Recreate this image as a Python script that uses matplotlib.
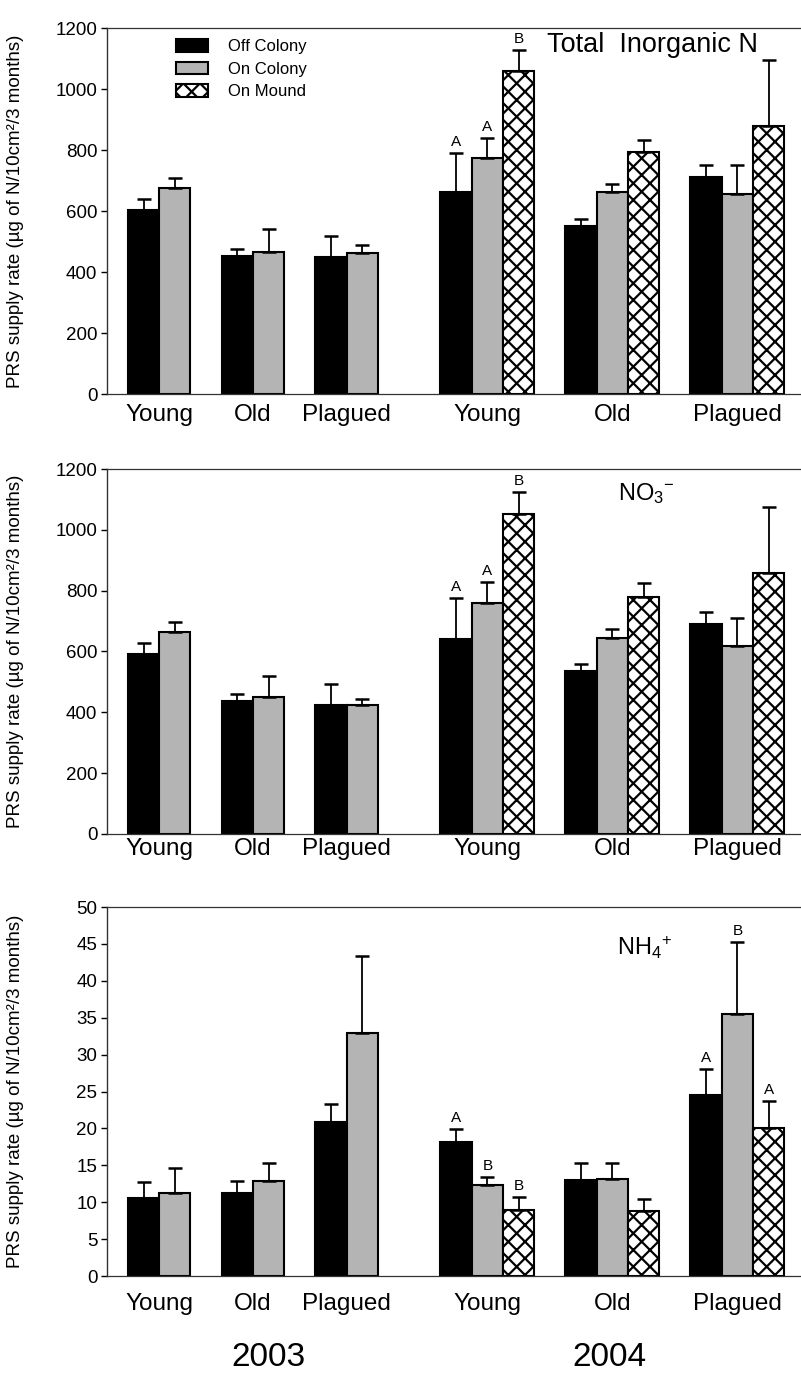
import numpy as np
import matplotlib
matplotlib.use('Agg')
import matplotlib.pyplot as plt

plt.rcParams['font.family'] = ['Liberation Sans', 'DejaVu Sans']
plt.rcParams['mathtext.fontset'] = 'custom'
plt.rcParams['mathtext.rm'] = 'Liberation Sans'
plt.rcParams['mathtext.it'] = 'Liberation Sans'
plt.rcParams['mathtext.default'] = 'regular'
plt.rcParams['hatch.linewidth'] = 1.6

# groups: 2003 Young, Old, Plagued, then 2004 Young, Old, Plagued
categories = ['Young', 'Old', 'Plagued', 'Young', 'Old', 'Plagued']
years = ['2003', '2004']
series = ['Off Colony', 'On Colony', 'On Mound']
nan = np.nan

# Total inorganic N
tin_off = [603, 452, 449, 664, 550, 710]
tin_off_se = [36, 23, 68, 126, 23, 41]
tin_on = [676, 466, 462, 773, 663, 655]
tin_on_se = [33, 74, 28, 66, 24, 96]
tin_mound = [nan, nan, nan, 1059, 792, 879]
tin_mound_se = [nan, nan, nan, 69, 41, 216]
tin_letters = [[None, None, None, 'A', None, None],
               [None, None, None, 'A', None, None],
               [None, None, None, 'B', None, None]]

# NO3-
no3_off = [591, 438, 424, 642, 536, 689]
no3_off_se = [36, 22, 69, 133, 23, 40]
no3_on = [664, 451, 424, 760, 645, 619]
no3_on_se = [33, 69, 19, 68, 28, 92]
no3_mound = [nan, nan, nan, 1051, 780, 857]
no3_mound_se = [nan, nan, nan, 72, 44, 219]
no3_letters = [[None, None, None, 'A', None, None],
               [None, None, None, 'A', None, None],
               [None, None, None, 'B', None, None]]

# NH4+
nh4_off = [10.6, 11.2, 20.9, 18.2, 13.0, 24.5]
nh4_off_se = [2.1, 1.7, 2.4, 1.7, 2.3, 3.5]
nh4_on = [11.3, 12.9, 32.9, 12.3, 13.2, 35.5]
nh4_on_se = [3.4, 2.4, 10.4, 1.1, 2.1, 9.7]
nh4_mound = [nan, nan, nan, 9.0, 8.8, 20.1]
nh4_mound_se = [nan, nan, nan, 1.7, 1.6, 3.6]
nh4_letters = [[None, None, None, 'A', None, 'A'],
               [None, None, None, 'B', None, 'B'],
               [None, None, None, 'B', None, 'A']]

panels = [
    dict(vals=[tin_off, tin_on, tin_mound], se=[tin_off_se, tin_on_se, tin_mound_se],
         letters=tin_letters, title='Total  Inorganic N', ymax=1200, ystep=200),
    dict(vals=[no3_off, no3_on, no3_mound], se=[no3_off_se, no3_on_se, no3_mound_se],
         letters=no3_letters, title='NO$_3$$^{-}$', ymax=1200, ystep=200),
    dict(vals=[nh4_off, nh4_on, nh4_mound], se=[nh4_off_se, nh4_on_se, nh4_mound_se],
         letters=nh4_letters, title='NH$_4$$^{+}$', ymax=50, ystep=5),
]

# layout
rects = [[0.1336, 0.713, 0.865, 0.2666],
         [0.1336, 0.3926, 0.865, 0.2658],
         [0.1336, 0.0706, 0.865, 0.2688]]
label_pads = [7, 3, 12]
title_pos = [(0.635, 0.954), (0.737, 0.934), (0.736, 0.889)]
title_sizes = [19.5, 17, 17]
faces = ['black', '#b4b4b4', 'white']
hatches = [None, None, 'xx']


def group_slots(g):
    # each bar takes one slot, one empty slot between groups, two between years
    if g < 3:
        nbar = 2
        start = g * 3
    else:
        nbar = 3
        start = 10 + (g - 3) * 4
    return nbar, start


fig = plt.figure(figsize=(8.01, 13.73), dpi=100)

for p, panel in enumerate(panels):
    ax = fig.add_axes(rects[p])
    centers = []
    for s in range(3):
        xs, ys, es, letts = [], [], [], []
        for g in range(len(categories)):
            nbar, start = group_slots(g)
            if s >= nbar:
                continue
            xs.append(start + s + 0.5)
            ys.append(panel['vals'][s][g])
            es.append(panel['se'][s][g])
            letts.append(panel['letters'][s][g])
        ax.bar(xs, ys, width=1.0, color=faces[s], edgecolor='black', linewidth=1.5,
               hatch=hatches[s], label=series[s], zorder=2)
        ax.errorbar(xs, ys, yerr=[np.zeros(len(es)), es], fmt='none', ecolor='black',
                    elinewidth=1.3, capsize=5, capthick=1.8, zorder=3)
        for x, y, e, l in zip(xs, ys, es, letts):
            if l:
                ax.annotate(l, (x, y + e), xytext=(0, 3), textcoords='offset points',
                            ha='center', va='bottom', fontsize=11)
    for g in range(len(categories)):
        nbar, start = group_slots(g)
        centers.append(start + nbar / 2)

    ax.set_xlim(-0.67, 21.5)
    ax.set_ylim(0, panel['ymax'])
    ax.set_yticks(np.arange(0, panel['ymax'] + 0.1, panel['ystep']))
    ax.set_xticks(centers)
    ax.set_xticklabels(categories, fontsize=17.5)
    ax.tick_params(axis='x', length=0, pad=label_pads[p])
    ax.tick_params(axis='y', direction='out', length=4, width=1, labelsize=13.5, pad=3)
    ax.spines['right'].set_visible(False)
    for side in ['top', 'bottom']:
        ax.spines[side].set_linestyle((0, (1, 1)))
        ax.spines[side].set_linewidth(0.9)
        ax.spines[side].set_color('#333333')
    ax.spines['left'].set_linewidth(1.0)
    ax.spines['left'].set_color('#333333')
    ax.set_ylabel('PRS supply rate (µg of N/10cm²/3 months)', fontsize=13.5)
    ax.yaxis.set_label_coords(-0.12, 0.5)
    ax.text(title_pos[p][0], title_pos[p][1], panel['title'], transform=ax.transAxes,
            fontsize=title_sizes[p], ha='left', va='center')
    if p == 0:
        ax.legend(loc='upper left', bbox_to_anchor=(0.0996, 0.97), frameon=False,
                  fontsize=12, handlelength=1.9, handleheight=0.8, labelspacing=0.45,
                  handletextpad=1.2, borderpad=0, borderaxespad=0)

fig.text(268 / 801, 1 - 1358 / 1373, years[0], fontsize=24, ha='center', va='center')
fig.text(609 / 801, 1 - 1358 / 1373, years[1], fontsize=24, ha='center', va='center')

fig.savefig('out.png', dpi=100)
